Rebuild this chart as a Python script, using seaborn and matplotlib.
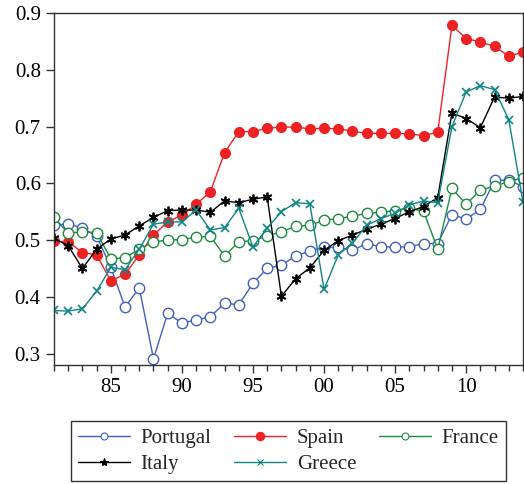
import numpy as np
import pandas as pd
import matplotlib
matplotlib.use("Agg")
from matplotlib import pyplot as plt
from matplotlib.lines import Line2D
from matplotlib.ticker import MultipleLocator, FuncFormatter
import seaborn as sns

years = list(range(1981, 2015))

portugal = [0.526, 0.529, 0.521, 0.507, 0.452, 0.382, 0.416, 0.291, 0.371, 0.354,
            0.359, 0.365, 0.389, 0.386, 0.424, 0.450, 0.456, 0.472, 0.481, 0.487,
            0.487, 0.482, 0.494, 0.488, 0.488, 0.488, 0.494, 0.494, 0.545, 0.537,
            0.554, 0.605, 0.606, 0.594]
spain = [0.498, 0.497, 0.478, 0.474, 0.428, 0.440, 0.474, 0.509, 0.532, 0.544,
         0.563, 0.585, 0.654, 0.691, 0.691, 0.697, 0.699, 0.699, 0.696, 0.697,
         0.696, 0.692, 0.688, 0.688, 0.688, 0.687, 0.684, 0.690, 0.878, 0.855,
         0.849, 0.841, 0.824, 0.831]
france = [0.540, 0.512, 0.515, 0.513, 0.467, 0.469, 0.484, 0.497, 0.500, 0.501,
          0.505, 0.507, 0.472, 0.497, 0.499, 0.507, 0.515, 0.524, 0.526, 0.535,
          0.538, 0.542, 0.547, 0.549, 0.552, 0.556, 0.551, 0.484, 0.591, 0.563,
          0.588, 0.595, 0.603, 0.610]
italy = [0.503, 0.490, 0.450, 0.484, 0.502, 0.509, 0.525, 0.540, 0.552, 0.553,
         0.553, 0.549, 0.569, 0.566, 0.572, 0.576, 0.401, 0.432, 0.451, 0.482,
         0.499, 0.509, 0.519, 0.528, 0.538, 0.550, 0.559, 0.575, 0.724, 0.714,
         0.698, 0.752, 0.750, 0.753]
greece = [0.376, 0.375, 0.379, 0.410, 0.452, 0.448, 0.484, 0.528, 0.532, 0.532,
          0.553, 0.518, 0.522, 0.556, 0.488, 0.521, 0.550, 0.566, 0.564, 0.413,
          0.474, 0.495, 0.526, 0.538, 0.547, 0.562, 0.569, 0.566, 0.700, 0.761,
          0.772, 0.765, 0.712, 0.567]

df = pd.DataFrame({"year": years, "Portugal": portugal, "Spain": spain,
                   "France": france, "Italy": italy, "Greece": greece})
long = df.melt(id_vars="year", var_name="country", value_name="value")

sns.set_style("ticks")
plt.rcParams["font.family"] = ["Liberation Serif", "DejaVu Serif"]

fig = plt.figure(figsize=(5.24, 4.84), dpi=100)
ax = fig.add_axes([54 / 524, 1 - 365 / 484, 469 / 524, 352 / 484])

# marker look per country
styles = {
    "Portugal": dict(color="#4060C0", marker="o", mfc="white", ms=7.5, mew=1.0),
    "Spain": dict(color="#EE2222", marker="o", mfc="#EE2222", ms=7, mew=1.0),
    "France": dict(color="#1E8C3E", marker="o", mfc="white", ms=7.5, mew=1.0),
    "Italy": dict(color="black", marker=(6, 2, 0), mfc="black", ms=7, mew=1.3),
    "Greece": dict(color="#108585", marker="x", mfc="#108585", ms=5.5, mew=1.2),
}
for name in ["Portugal", "Spain", "France", "Italy", "Greece"]:
    s = styles[name]
    sns.lineplot(data=long[long.country == name], x="year", y="value", ax=ax,
                 color=s["color"], marker=s["marker"], markersize=s["ms"],
                 markerfacecolor=s["mfc"], markeredgecolor=s["color"],
                 markeredgewidth=s["mew"], linewidth=1.0, legend=False)

ax.set_xlim(1981, 2014)
ax.set_ylim(0.28, 0.9)
ax.xaxis.set_major_locator(MultipleLocator(5))
ax.xaxis.set_minor_locator(MultipleLocator(1))
ax.xaxis.set_major_formatter(FuncFormatter(lambda v, p: "%02d" % (int(v) % 100)))
ax.yaxis.set_major_locator(MultipleLocator(0.1))
ax.yaxis.set_major_formatter(FuncFormatter(lambda v, p: "%.1f" % v))
ax.set_xlabel("")
ax.set_ylabel("")
for sp in ax.spines.values():
    sp.set_visible(True)
    sp.set_linewidth(1.0)
    sp.set_color("#333333")
ax.tick_params(axis="both", which="major", labelsize=15, length=6, width=1, direction="out",
               colors="#333333", labelcolor="black")
ax.tick_params(axis="x", which="minor", length=4, width=1, direction="out", colors="#333333")
ax.tick_params(top=False, right=False, which="both")

# legend filled row by row, smaller markers
order = ["Portugal", "Italy", "Spain", "Greece", "France"]
small = {"Portugal": ("o", 5), "Italy": ("*", 6), "Spain": ("o", 6),
         "Greece": ("x", 4), "France": ("o", 5)}
handles = []
for name in order:
    s = styles[name]
    mk, ms = small[name]
    handles.append(Line2D([], [], color=s["color"], lw=1.0, marker=mk, markersize=ms,
                          markerfacecolor=s["mfc"], markeredgecolor=s["color"],
                          markeredgewidth=0.8))
leg = ax.legend(handles, order, ncol=3,
                loc="upper center", bbox_to_anchor=(0.5, -0.13), frameon=True,
                fancybox=False, edgecolor="black", fontsize=15, handlelength=2.5,
                columnspacing=1.1, handletextpad=0.5, labelspacing=0.3,
                borderpad=0.35)
leg.get_frame().set_linewidth(1.0)

fig.savefig("out.png", dpi=100)
